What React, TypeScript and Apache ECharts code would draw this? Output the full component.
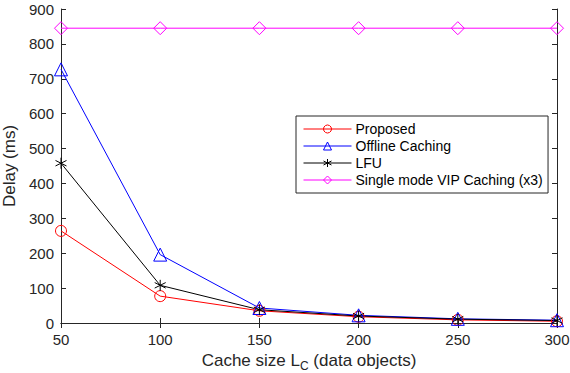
import React, { useEffect, useRef } from "react";
import * as echarts from "echarts";

const cacheSizes = [50, 100, 150, 200, 250, 300];
const proposed = [264, 77, 35, 18, 9, 5];
const offline = [727, 196, 43, 22, 12, 8];
const lfu = [458, 108, 38, 20, 11, 7];
const vip = [845, 845, 845, 845, 845, 845];
const yTicks = { min: 0, max: 900, interval: 100 };

const FONT = "Liberation Sans, Arial, sans-serif";
const AX = "#262626";

const asterisk = "path://M0,-5L0,5M-4.33,-2.5L4.33,2.5M-4.33,2.5L4.33,-2.5M0,-5";

function pairs(v: number[]) {
  return cacheSizes.map((x, i) => [x, v[i]]);
}

export default function App() {
  const ref = useRef<HTMLDivElement>(null);
  useEffect(() => {
    const chart = echarts.init(ref.current!, null, { renderer: "svg" });
    const mk = (name: string, color: string, data: number[], symbol: string, size: number) => ({
      name,
      type: "line",
      data: pairs(data),
      symbol,
      symbolSize: size,
      showAllSymbol: true,
      lineStyle: { color, width: 1 },
      itemStyle: { color: "rgba(255,255,255,0)", borderColor: color, borderWidth: 1 },
      emphasis: { disabled: true },
    });
    chart.setOption({
      animation: false,
      backgroundColor: "#fff",
      grid: {
        left: 61,
        right: 13,
        top: 9,
        bottom: 50,
        show: false,
        containLabel: false,
        outerBoundsMode: "none",
      },
      legend: {
        orient: "vertical",
        left: 296,
        top: 116,
        backgroundColor: "#fff",
        borderColor: AX,
        borderWidth: 1,
        padding: [5, 5, 5, 7],
        itemWidth: 48,
        itemHeight: 10,
        itemGap: 1,
        borderRadius: 0,
        itemStyle: { borderWidth: 1 },
        lineStyle: { width: 1 },
        textStyle: { fontFamily: FONT, fontSize: 14, color: "#000", padding: [0, 0, 0, -1], lineHeight: 16 },
        data: ["Proposed", "Offline Caching", "LFU", "Single mode VIP Caching (x3)"],
      },
      xAxis: [
        {
          type: "value",
          min: 50,
          max: 300,
          interval: 50,
          position: "bottom",
          name: "{a|Cache size L}{s|C}{a| (data objects)}",
          nameLocation: "middle",
          nameGap: 25,
          nameTextStyle: {
            rich: {
              a: { fontFamily: FONT, fontSize: 17, color: AX },
              s: { fontFamily: FONT, fontSize: 12, color: AX, padding: [12, 0, 0, 0] },
            },
          },
          axisLine: { show: true, lineStyle: { color: AX, width: 1 } },
          axisTick: { show: true, inside: true, length: 5, lineStyle: { color: AX } },
          axisLabel: { fontFamily: FONT, fontSize: 15, color: AX, margin: 9 },
          splitLine: { show: false },
        },
        {
          type: "value",
          min: 50,
          max: 300,
          interval: 50,
          position: "top",
          axisLine: { show: true, lineStyle: { color: AX, width: 1 } },
          axisTick: { show: true, inside: true, length: 5, lineStyle: { color: AX } },
          axisLabel: { show: false },
          splitLine: { show: false },
        },
      ],
      yAxis: [
        {
          type: "value",
          ...yTicks,
          position: "left",
          name: "Delay (ms)",
          nameLocation: "middle",
          nameGap: 34,
          nameTextStyle: { fontFamily: FONT, fontSize: 17, color: AX },
          axisLine: { show: true, lineStyle: { color: AX, width: 1 } },
          axisTick: { show: true, inside: true, length: 5, lineStyle: { color: AX } },
          axisLabel: { fontFamily: FONT, fontSize: 15, color: AX, margin: 7 },
          splitLine: { show: false },
        },
        {
          type: "value",
          ...yTicks,
          position: "right",
          axisLine: { show: true, lineStyle: { color: AX, width: 1 } },
          axisTick: { show: true, inside: true, length: 5, lineStyle: { color: AX } },
          axisLabel: { show: false },
          splitLine: { show: false },
        },
      ],
      series: [
        mk("Proposed", "#ff0000", proposed, "circle", 11),
        mk("Offline Caching", "#0000ff", offline, "triangle", 13),
        mk("LFU", "#000000", lfu, asterisk, 11),
        mk("Single mode VIP Caching (x3)", "#ff00ff", vip, "diamond", 13),
      ],
    });
    return () => chart.dispose();
  }, []);
  return (
    <div
      ref={ref}
      style={{ position: "absolute", left: 0, top: 0, width: 570, height: 373 }}
    />
  );
}
